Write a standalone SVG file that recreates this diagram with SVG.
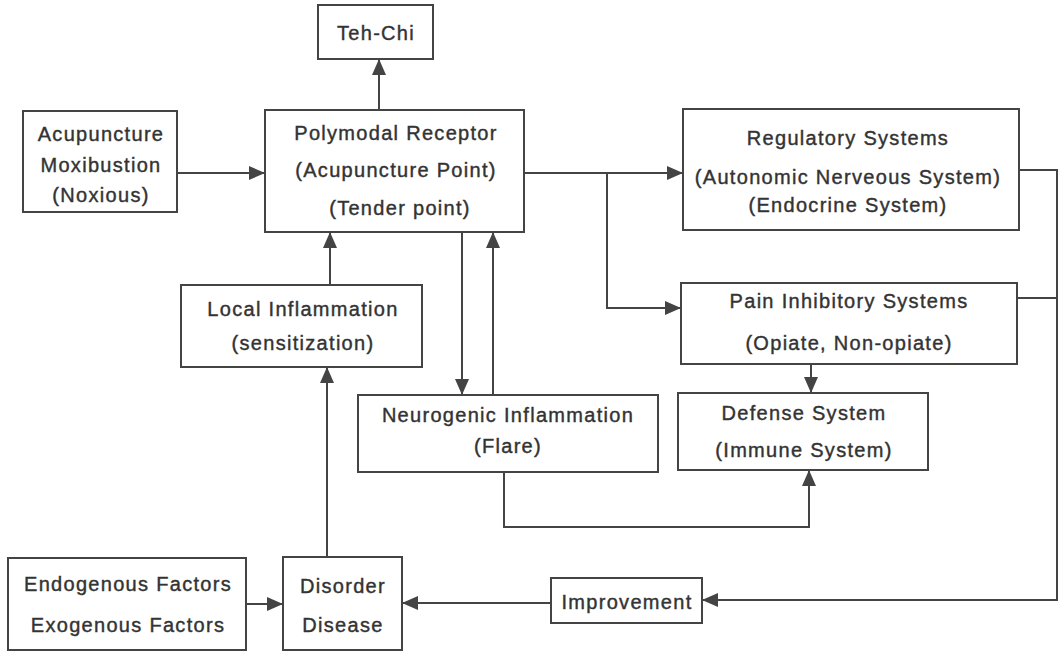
<svg xmlns="http://www.w3.org/2000/svg" width="1063" height="652" viewBox="0 0 1063 652">
<style>
.box{fill:#fff;stroke:#444;stroke-width:2}
.t{font-family:"Liberation Sans",Arial,sans-serif;font-size:20px;fill:#333;stroke:#333;stroke-width:0.4;text-anchor:middle;letter-spacing:1.3px}
.c{fill:none;stroke:#444;stroke-width:2}
</style>
<defs>
<marker id="ah" markerUnits="userSpaceOnUse" markerWidth="16" markerHeight="14" refX="15" refY="7" orient="auto">
<path d="M0,0 L16,7 L0,14 Z" fill="#444"/>
</marker>
</defs>
<rect width="1063" height="652" fill="#fff"/>
<g id="connectors">
<path class="c" d="M379,110 V60" marker-end="url(#ah)"/>
<path class="c" d="M177,173 H264" marker-end="url(#ah)"/>
<path class="c" d="M524,173 H682" marker-end="url(#ah)"/>
<path class="c" d="M607,173 V308 H680" marker-end="url(#ah)"/>
<path class="c" d="M330,285 V233" marker-end="url(#ah)"/>
<path class="c" d="M462,232 V394" marker-end="url(#ah)"/>
<path class="c" d="M493,395 V233" marker-end="url(#ah)"/>
<path class="c" d="M811,364 V392" marker-end="url(#ah)"/>
<path class="c" d="M504,472 V527 H809 V471" marker-end="url(#ah)"/>
<path class="c" d="M327,557 V368" marker-end="url(#ah)"/>
<path class="c" d="M246,604 H282" marker-end="url(#ah)"/>
<path class="c" d="M1019,170 H1057 M1017,298 H1057 M1057,169 V600 H703" marker-end="url(#ah)"/>
<path class="c" d="M551,603 H403" marker-end="url(#ah)"/>
</g>
<g id="tehchi">
<rect class="box" x="318" y="5" width="115" height="54"/>
<text class="t" x="376" y="40">Teh-Chi</text>
</g>
<g id="acupuncture">
<rect class="box" x="23" y="111" width="154" height="101"/>
<text class="t" x="101" y="141">Acupuncture</text>
<text class="t" x="101" y="172">Moxibustion</text>
<text class="t" x="101" y="202">(Noxious)</text>
</g>
<g id="polymodal">
<rect class="box" x="265" y="110" width="259" height="122"/>
<text class="t" x="396" y="140">Polymodal Receptor</text>
<text class="t" x="396" y="177">(Acupuncture Point)</text>
<text class="t" x="400" y="215">(Tender point)</text>
</g>
<g id="regulatory">
<rect class="box" x="683" y="109" width="336" height="121"/>
<text class="t" x="848" y="145">Regulatory Systems</text>
<text class="t" x="848" y="184">(Autonomic Nerveous System)</text>
<text class="t" x="848" y="212">(Endocrine System)</text>
</g>
<g id="pain">
<rect class="box" x="681" y="283" width="336" height="81"/>
<text class="t" x="849" y="308">Pain Inhibitory Systems</text>
<text class="t" x="849" y="350">(Opiate, Non-opiate)</text>
</g>
<g id="local">
<rect class="box" x="181" y="285" width="241" height="82"/>
<text class="t" x="303" y="316">Local Inflammation</text>
<text class="t" x="303" y="350">(sensitization)</text>
</g>
<g id="neurogenic">
<rect class="box" x="358" y="395" width="300" height="77"/>
<text class="t" x="508" y="422">Neurogenic Inflammation</text>
<text class="t" x="508" y="453">(Flare)</text>
</g>
<g id="defense">
<rect class="box" x="678" y="393" width="250" height="77"/>
<text class="t" x="804" y="420">Defense System</text>
<text class="t" x="804" y="457">(Immune System)</text>
</g>
<g id="improvement">
<rect class="box" x="551" y="578" width="151" height="45"/>
<text class="t" x="627" y="609">Improvement</text>
</g>
<g id="disorder">
<rect class="box" x="283" y="557" width="119" height="93"/>
<text class="t" x="343" y="593">Disorder</text>
<text class="t" x="343" y="632">Disease</text>
</g>
<g id="factors">
<rect class="box" x="8" y="558" width="238" height="92"/>
<text class="t" x="128" y="591">Endogenous Factors</text>
<text class="t" x="128" y="632">Exogenous Factors</text>
</g>
</svg>
